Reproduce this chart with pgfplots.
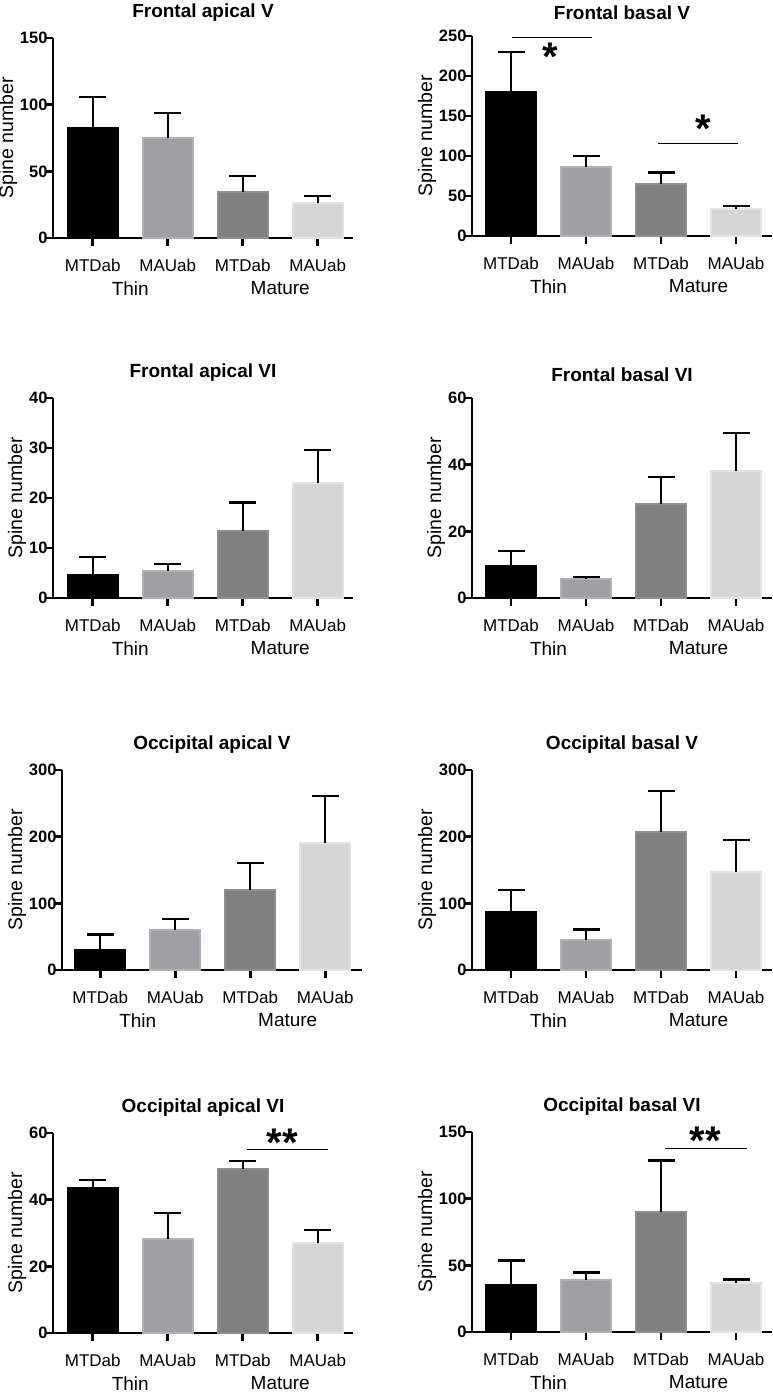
\documentclass[border=0pt]{standalone}
\usepackage{fontspec}
\setmainfont{Liberation Sans}
\usepackage{pgfplots}
\pgfplotsset{compat=1.18}
\definecolor{gA}{RGB}{0,0,0}
\definecolor{gAd}{RGB}{0,0,0}
\definecolor{gB}{RGB}{160,160,164}
\definecolor{gBd}{RGB}{176,176,180}
\definecolor{gC}{RGB}{128,128,128}
\definecolor{gCd}{RGB}{142,142,142}
\definecolor{gD}{RGB}{214,214,214}
\definecolor{gDd}{RGB}{226,226,226}
\pgfplotsset{
  panel/.style={
    scale only axis, width=300pt, height=200pt,
    anchor=south west,
    axis lines=left, axis line style={-, line width=2.6pt, black},
    xmin=0.47, xmax=4.47, ymin=0,
    xtick={1,2,3,4}, xticklabels={MTDab,MAUab,MTDab,MAUab},
    xticklabel style={font=\fontsize{17}{17}\selectfont, yshift=-10pt},
    extra x ticks={1.5,3.5}, extra x tick labels={Thin,Mature},
    extra x tick style={major tick length=0pt, xticklabel style={font=\fontsize{19}{19}\selectfont, yshift=-30pt}},
    tick align=outside, major tick length=8pt,
    tick style={line width=2.6pt, black},
    yticklabel style={font=\bfseries\fontsize{16.5}{16.5}\selectfont, xshift=6pt},
    /pgf/number format/assume math mode=true,
    ylabel={Spine number},
    ylabel shift=-4pt,
    ylabel style={font=\fontsize{19.5}{19.5}\selectfont},
    title style={font=\bfseries\fontsize{19}{19}\selectfont, yshift=7pt},
    clip=false,
  },
  bar/.style={ybar, bar width=50pt, bar shift=0pt, line width=2pt,
    error bars/y dir=plus, error bars/y explicit,
    error bars/error mark=-,
    error bars/error bar style={line width=2.2pt, black},
    error bars/error mark options={rotate=90, line width=2.2pt, mark size=13.5pt, black}},
  sig/.style={sharp plot, black, line width=1.3pt, mark=none},
}
\newcommand{\sigstar}[1]{\fontsize{40}{40}\selectfont\bfseries #1}
\begin{document}
\begin{tikzpicture}
\useasboundingbox (0pt,0pt) rectangle (773pt,-1393pt);
% Panel 1
\begin{axis}[panel, at={(53pt,-238pt)}, title={Frontal apical V}, ymax=150, ytick={0,50,100,150}]
\addplot[bar, fill=gA, draw=gAd] coordinates {(1,82.7) +- (0,23.3)};
\addplot[bar, fill=gB, draw=gBd] coordinates {(2,74.8) +- (0,18.7)};
\addplot[bar, fill=gC, draw=gCd] coordinates {(3,34.7) +- (0,12.0)};
\addplot[bar, fill=gD, draw=gDd] coordinates {(4,26.0) +- (0,5.3)};
\end{axis}
% Panel 2
\begin{axis}[panel, at={(472pt,-236pt)}, xmin=0.48, xmax=4.48, title={Frontal basal V}, ymax=250, ytick={0,50,100,150,200,250}]
\addplot[bar, fill=gA, draw=gAd] coordinates {(1,180.6) +- (0,49.4)};
\addplot[bar, fill=gB, draw=gBd] coordinates {(2,86.0) +- (0,13.6)};
\addplot[bar, fill=gC, draw=gCd] coordinates {(3,64.4) +- (0,14.9)};
\addplot[bar, fill=gD, draw=gDd] coordinates {(4,33.3) +- (0,4.6)};
\addplot[sig] coordinates {(1.01,248) (2.08,248)};
\addplot[sig] coordinates {(2.96,116) (4.03,116)};
\node[anchor=base, yshift=-18pt] at (axis cs:1.53,228.8) {\sigstar{*}};
\node[anchor=base, yshift=-18pt] at (axis cs:3.56,139) {\sigstar{*}};
\end{axis}
% Panel 3
\begin{axis}[panel, at={(53pt,-598pt)}, title={Frontal apical VI}, ymax=40, ytick={0,10,20,30,40}]
\addplot[bar, fill=gA, draw=gAd] coordinates {(1,4.7) +- (0,3.5)};
\addplot[bar, fill=gB, draw=gBd] coordinates {(2,5.5) +- (0,1.3)};
\addplot[bar, fill=gC, draw=gCd] coordinates {(3,13.4) +- (0,5.7)};
\addplot[bar, fill=gD, draw=gDd] coordinates {(4,23.1) +- (0,6.5)};
\end{axis}
% Panel 4
\begin{axis}[panel, at={(472pt,-598pt)}, xmin=0.48, xmax=4.48, title={Frontal basal VI}, ymax=60, ytick={0,20,40,60}]
\addplot[bar, fill=gA, draw=gAd] coordinates {(1,9.5) +- (0,4.6)};
\addplot[bar, fill=gB, draw=gBd] coordinates {(2,5.6) +- (0,0.7)};
\addplot[bar, fill=gC, draw=gCd] coordinates {(3,28.1) +- (0,8.2)};
\addplot[bar, fill=gD, draw=gDd] coordinates {(4,38.1) +- (0,11.4)};
\end{axis}
% Panel 5
\begin{axis}[panel, at={(62pt,-970pt)}, xmin=0.49, xmax=4.49, title={Occipital apical V}, ymax=300, ytick={0,100,200,300}]
\addplot[bar, fill=gA, draw=gAd] coordinates {(1,30.6) +- (0,22.6)};
\addplot[bar, fill=gB, draw=gBd] coordinates {(2,59.8) +- (0,16.6)};
\addplot[bar, fill=gC, draw=gCd] coordinates {(3,120.6) +- (0,39.6)};
\addplot[bar, fill=gD, draw=gDd] coordinates {(4,191.0) +- (0,69.8)};
\end{axis}
% Panel 6
\begin{axis}[panel, at={(472pt,-970pt)}, xmin=0.48, xmax=4.48, title={Occipital basal V}, ymax=300, ytick={0,100,200,300}]
\addplot[bar, fill=gA, draw=gAd] coordinates {(1,86.4) +- (0,33.1)};
\addplot[bar, fill=gB, draw=gBd] coordinates {(2,45.7) +- (0,15.1)};
\addplot[bar, fill=gC, draw=gCd] coordinates {(3,207.6) +- (0,60.7)};
\addplot[bar, fill=gD, draw=gDd] coordinates {(4,147.3) +- (0,47.6)};
\end{axis}
% Panel 7
\begin{axis}[panel, at={(53pt,-1333pt)}, title={Occipital apical VI}, ymax=60, ytick={0,20,40,60}]
\addplot[bar, fill=gA, draw=gAd] coordinates {(1,43.5) +- (0,2.5)};
\addplot[bar, fill=gB, draw=gBd] coordinates {(2,28.3) +- (0,7.7)};
\addplot[bar, fill=gC, draw=gCd] coordinates {(3,49.2) +- (0,2.4)};
\addplot[bar, fill=gD, draw=gDd] coordinates {(4,26.9) +- (0,4.1)};
\addplot[sig] coordinates {(3.05,55) (4.13,55)};
\node[anchor=base, yshift=-18pt] at (axis cs:3.53,58.5) {\sigstar{**}};
\end{axis}
% Panel 8
\begin{axis}[panel, at={(472pt,-1332pt)}, xmin=0.48, xmax=4.48, title={Occipital basal VI}, ymax=150, ytick={0,50,100,150}]
\addplot[bar, fill=gA, draw=gAd] coordinates {(1,34.9) +- (0,18.8)};
\addplot[bar, fill=gB, draw=gBd] coordinates {(2,38.9) +- (0,5.8)};
\addplot[bar, fill=gC, draw=gCd] coordinates {(3,90.2) +- (0,38.4)};
\addplot[bar, fill=gD, draw=gDd] coordinates {(4,36.9) +- (0,2.5)};
\addplot[sig] coordinates {(3.05,137.6) (4.15,137.6)};
\node[anchor=base, yshift=-18pt] at (axis cs:3.59,146.5) {\sigstar{**}};
\end{axis}
\end{tikzpicture}
\end{document}
